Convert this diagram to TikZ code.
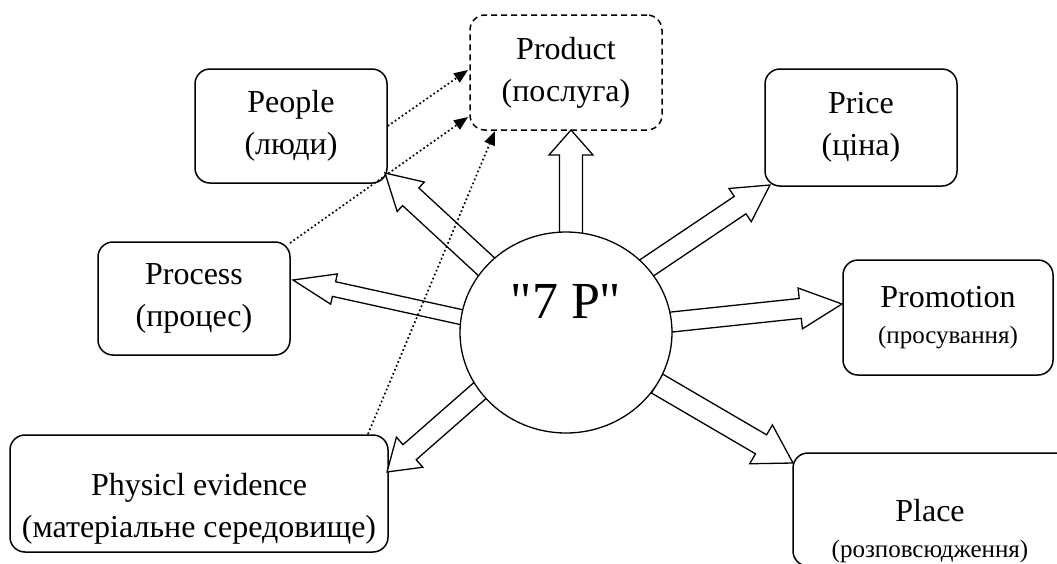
\documentclass[tikz,border=0pt]{standalone}
\usepackage{fontspec}
\setmainfont{Liberation Serif}
\newfontfamily\qfont{Liberation Serif}
\usetikzlibrary{shapes.geometric,arrows.meta,calc}
\newcommand\mybigf{\fontsize{32}{42}\selectfont}
\newcommand\mysmallf{\fontsize{25}{34}\selectfont}
\newcommand\blockarr[5]{%
  \draw[blkarrow] let \p1=(#1), \p2=(#2),
     \n1={atan2(\y2-\y1,\x2-\x1)}, \n2={veclen(\x2-\x1,\y2-\y1)} in
     [shift={(\p1)}, rotate=\n1]
     (0,#3) -- ({\n2-#5},#3) -- ({\n2-#5},#4) -- (\n2,0) -- ({\n2-#5},-#4) -- ({\n2-#5},-#3) -- (0,-#3) -- cycle;}
\begin{document}
\begin{tikzpicture}[x=1pt,y=-1pt,
  box/.style={draw, line width=1.5pt, rounded corners=15pt, inner sep=0pt, align=center, font=\mybigf},
  txt/.style={inner sep=0pt, align=center, font=\mybigf},
  blkarrow/.style={draw, fill=white, line width=1.3pt, line join=miter},
  dotarrow/.style={line width=1.7pt, dash pattern=on 1.7pt off 2.6pt, -{Triangle[length=14pt,width=11pt]}}
]
\useasboundingbox (0,0) rectangle (1057,563);
\clip (0,0) rectangle (1057,563);

% boxes
\node[box, dash pattern=on 6pt off 4pt, minimum width=192, minimum height=115] (product) at (566,72.5)
  {Product\\(послуга)};
\node[box, minimum width=192, minimum height=114] (people) at (291,126) {People\\(люди)};
\node[box, minimum width=192, minimum height=117] (price) at (861,127.5) {Price\\(ціна)};
\node[box, minimum width=192, minimum height=113] (process) at (194,298.5) {Process\\(процес)};
\node[box, minimum width=210, minimum height=115] (promotion) at (948,317.5)
  {Promotion\\[-6pt]{\mysmallf(просування)}};
\node[box, minimum width=378, minimum height=117] (phys) at (199,493.5) {};
\node[txt, anchor=base] (physT) at (199,537) {Physicl evidence\\(матеріальне середовище)};
\node[box, minimum width=290, minimum height=113] (place) at (938,509.5) {};
\node[txt, anchor=base] (placeT) at (930,557) {Place\\[-6pt]{\mysmallf(розповсюдження)}};

% arrow end points
\coordinate (tProduct) at (571,238);   \coordinate (hProduct) at (571,130);
\coordinate (tPeople) at (490,270);    \coordinate (hPeople) at (385,173);
\coordinate (tPrice) at (645,269);     \coordinate (hPrice) at (770,185);
\coordinate (tPromo) at (667,322.5);   \coordinate (hPromo) at (842,304);
\coordinate (tPlace) at (657,383.5);   \coordinate (hPlace) at (793,463);
\coordinate (tPhys) at (484,387);      \coordinate (hPhys) at (387,472);
\coordinate (tProcess) at (463,317.5); \coordinate (hProcess) at (293,280);

\blockarr{tProduct}{hProduct}{11.5}{22}{25}
\blockarr{tPeople}{hPeople}{12}{20}{35}
\blockarr{tPrice}{hPrice}{10.5}{20}{36}
\blockarr{tPromo}{hPromo}{10}{20.5}{42}
\blockarr{tPlace}{hPlace}{11}{22.5}{37}
\blockarr{tPhys}{hPhys}{10}{20}{30}
\blockarr{tProcess}{hProcess}{7.5}{15.5}{42}

% centre
\node[ellipse, draw, fill=white, line width=1.3pt, minimum width=212, minimum height=201, inner sep=0pt] (core) at (566,332.5) {};
\node[inner sep=0pt, anchor=base, font=\qfont\fontsize{52}{60}\selectfont] (title) at (566,318) {"7 P"};

% dotted connectors
\coordinate (d1) at (468,70);
\coordinate (d2s) at (290,243);
\coordinate (d2) at (468,117);
\coordinate (d3s) at (368,434);
\coordinate (d3) at (495,131);
\draw[dotarrow] (people.east) -- (d1);
\draw[dotarrow] (d2s) -- (d2);
\draw[dotarrow] (d3s) -- (d3);
\end{tikzpicture}
\end{document}
